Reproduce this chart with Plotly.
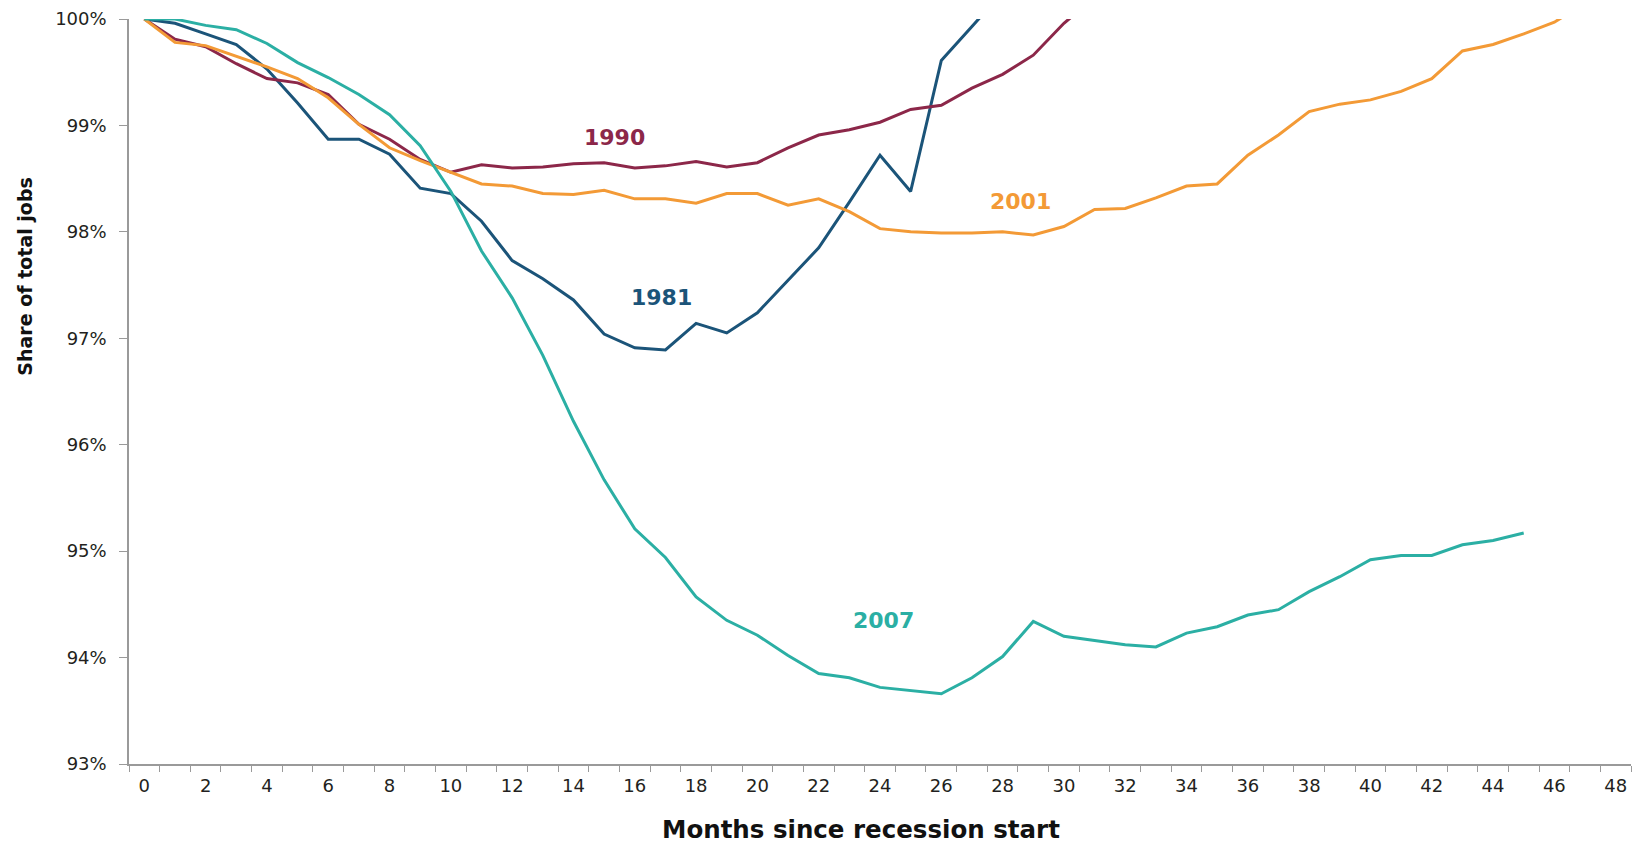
import plotly.graph_objects as go

# share of total jobs (%) by months since recession start
jobs_1981 = [100, 99.96, 99.86, 99.76, 99.53, 99.21, 98.87, 98.87, 98.73, 98.41,
             98.36, 98.10, 97.73, 97.56, 97.36, 97.04, 96.91, 96.89, 97.14, 97.05,
             97.24, 97.54, 97.85, 98.28, 98.72, 98.38, 99.61, 99.93, 100.25]
jobs_1990 = [100, 99.81, 99.74, 99.58, 99.44, 99.40, 99.29, 99.01, 98.87, 98.68,
             98.56, 98.63, 98.60, 98.61, 98.64, 98.65, 98.60, 98.62, 98.66, 98.61,
             98.65, 98.79, 98.91, 98.96, 99.03, 99.15, 99.19, 99.35, 99.48, 99.66,
             99.96, 100.2]
jobs_2001 = [100, 99.78, 99.75, 99.65, 99.55, 99.44, 99.26, 99.01, 98.79, 98.67,
             98.56, 98.45, 98.43, 98.36, 98.35, 98.39, 98.31, 98.31, 98.27, 98.36,
             98.36, 98.25, 98.31, 98.19, 98.03, 98.00, 97.99, 97.99, 98.00, 97.97,
             98.05, 98.21, 98.22, 98.32, 98.43, 98.45, 98.72, 98.91, 99.13, 99.20,
             99.24, 99.32, 99.44, 99.70, 99.76, 99.86, 99.97, 100.15]
jobs_2007 = [100, 100.0, 99.94, 99.90, 99.77, 99.59, 99.45, 99.29, 99.10, 98.81,
             98.38, 97.82, 97.38, 96.84, 96.22, 95.67, 95.21, 94.94, 94.57, 94.35,
             94.21, 94.02, 93.85, 93.81, 93.72, 93.69, 93.66, 93.81, 94.01, 94.34,
             94.20, 94.16, 94.12, 94.10, 94.23, 94.29, 94.40, 94.45, 94.62, 94.76,
             94.92, 94.96, 94.96, 95.06, 95.10, 95.17]

x_ticks = list(range(0, 49, 2))
y_ticks = [93, 94, 95, 96, 97, 98, 99, 100]
y_labels = ["%d%%" % v for v in y_ticks]

series = [
    ("1981", jobs_1981, "#1b5479", 16.88, 97.387),
    ("1990", jobs_1990, "#8c2749", 15.34, 98.884),
    ("2001", jobs_2001, "#f39a36", 28.59, 98.283),
    ("2007", jobs_2007, "#2bafa4", 24.1, 94.347),
]

fig = go.Figure()
for name, vals, color, lx, ly in series:
    fig.add_trace(go.Scatter(x=list(range(len(vals))), y=vals, mode="lines", name=name,
                             line=dict(color=color, width=3), showlegend=False))
    fig.add_annotation(x=lx, y=ly, text="<b>%s</b>" % name, showarrow=False,
                       font=dict(family="DejaVu Sans", size=22, color=color))

fig.add_annotation(xref="paper", yref="paper", x=0.4872, y=-0.088, showarrow=False,
                   xanchor="center", yanchor="middle",
                   text="<b>Months since recession start</b>",
                   font=dict(family="DejaVu Sans", size=24.5, color="#111"))
fig.add_annotation(xref="paper", yref="paper", x=-0.0695, y=0.6536, showarrow=False,
                   xanchor="center", yanchor="middle",
                   text="<b>Share of total jobs</b>", textangle=-90,
                   font=dict(family="DejaVu Sans", size=19, color="#111"))

# the page body adds 8px, so margins are trimmed by that much on the left/top
fig.update_layout(
    width=1641, height=843,
    margin=dict(l=121, r=18, t=11, b=87),
    plot_bgcolor="white", paper_bgcolor="white",
    font=dict(family="DejaVu Sans", size=18, color="#231f20"),
    xaxis=dict(range=[-0.5, 48.5], tickvals=x_ticks, showgrid=False, zeroline=False,
               automargin=False, showline=True, linecolor="#9a9a9a", linewidth=1.5,
               ticks="outside", ticklen=5, tickcolor="rgba(0,0,0,0)",
               minor=dict(ticks="outside", tick0=0.5, dtick=1, ticklen=6,
                          tickcolor="#9a9a9a", tickwidth=1.2, showgrid=False)),
    yaxis=dict(range=[93, 100], tickvals=y_ticks, ticktext=y_labels, showgrid=False,
               zeroline=False, automargin=False, showline=True, linecolor="#9a9a9a",
               linewidth=1.5, ticks="outside", ticklen=8, tickcolor="#9a9a9a",
               tickwidth=1.2, ticklabelstandoff=9, ticklabeloverflow="allow"),
)

fig.write_html("out.html")
